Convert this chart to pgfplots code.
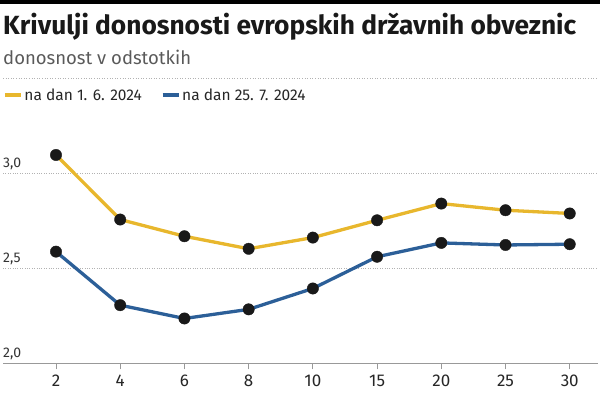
\documentclass[border=0pt]{standalone}
\usepackage{pgfplots}
\pgfplotsset{compat=1.18}
\usepackage{fontspec}
\setmainfont{Fira Sans}
\definecolor{cyel}{RGB}{232,183,45}
\definecolor{cblu}{RGB}{44,95,152}
\definecolor{cgray}{RGB}{90,90,90}
\begin{document}
\begin{tikzpicture}[x=1pt,y=1pt]
\path[use as bounding box] (0pt,0pt) rectangle (600pt,394pt);
\draw[black, line width=4pt] (0pt,391.5pt) -- (600pt,391.5pt);
\node[anchor=base west, inner sep=0, font=\fontsize{26.3}{30}\selectfont\bfseries, text=black!90] at (3pt,359pt) {Krivulji donosnosti evropskih državnih obveznic};
\node[anchor=base west, inner sep=0, font=\fontsize{18.5}{22}\selectfont, text=cgray] at (3pt,329pt) {donosnost v odstotkih};
\draw[gray!60, dotted, line width=0.6pt] (3pt,316pt) -- (598pt,316pt);
\begin{axis}[
  at={(3pt,30.7pt)}, anchor=south west,
  scale only axis, width=595pt, height=218.4pt,
  xmin=-0.825, xmax=8.44, ymin=2.0, ymax=3.15,
  axis x line*=bottom, axis y line*=left,
  x axis line style={-, draw=gray!80, line width=1.2pt},
  y axis line style={draw=none},
  xtick={0,...,8}, xticklabels={2,4,6,8,10,15,20,25,30},
  xtick align=outside, major tick length=6pt,
  xtick style={draw=gray!80, line width=0.8pt},
  ytick={2.0,2.5,3.0}, ytick style={draw=none},
  ymajorgrids, grid style={dotted, gray!60, line width=0.8pt},
  /pgf/number format/assume math mode=true,
  yticklabel={\pgfmathprintnumber[fixed, fixed zerofill, precision=1, use comma]{\tick}},
  yticklabel style={anchor=south west, inner sep=0pt, xshift=0pt, yshift=3pt, font=\fontsize{14}{16}\selectfont, text=black!80},
  xticklabel style={font=\fontsize{17}{20}\selectfont, text=black!85, yshift=-2pt},
  legend style={at={(0,1.2285)}, anchor=west, draw=none, fill=none, inner sep=0pt,
    legend columns=2, font=\fontsize{15.5}{20}\selectfont, text=black!85,
    /tikz/every even column/.append style={column sep=17pt},
    legend cell align=left},
  legend image code/.code={\draw[#1, mark=none, line width=3.3pt] (0pt,0pt) -- (16pt,0pt);},
  clip=false,
]
\addplot[cyel, line width=3.3pt, mark=*, mark size=5.7pt, mark options={fill=black!90, draw=black!90, line width=0.4pt}]
  coordinates {(0,3.097) (1,2.757) (2,2.669) (3,2.603) (4,2.662) (5,2.753) (6,2.841) (7,2.806) (8,2.789)};
\addlegendentry{na dan 1. 6. 2024}
\addplot[cblu, line width=3.3pt, mark=*, mark size=5.7pt, mark options={fill=black!90, draw=black!90, line width=0.4pt}]
  coordinates {(0,2.588) (1,2.306) (2,2.236) (3,2.284) (4,2.394) (5,2.561) (6,2.634) (7,2.623) (8,2.627)};
\addlegendentry{na dan 25. 7. 2024}
\end{axis}
\end{tikzpicture}
\end{document}
